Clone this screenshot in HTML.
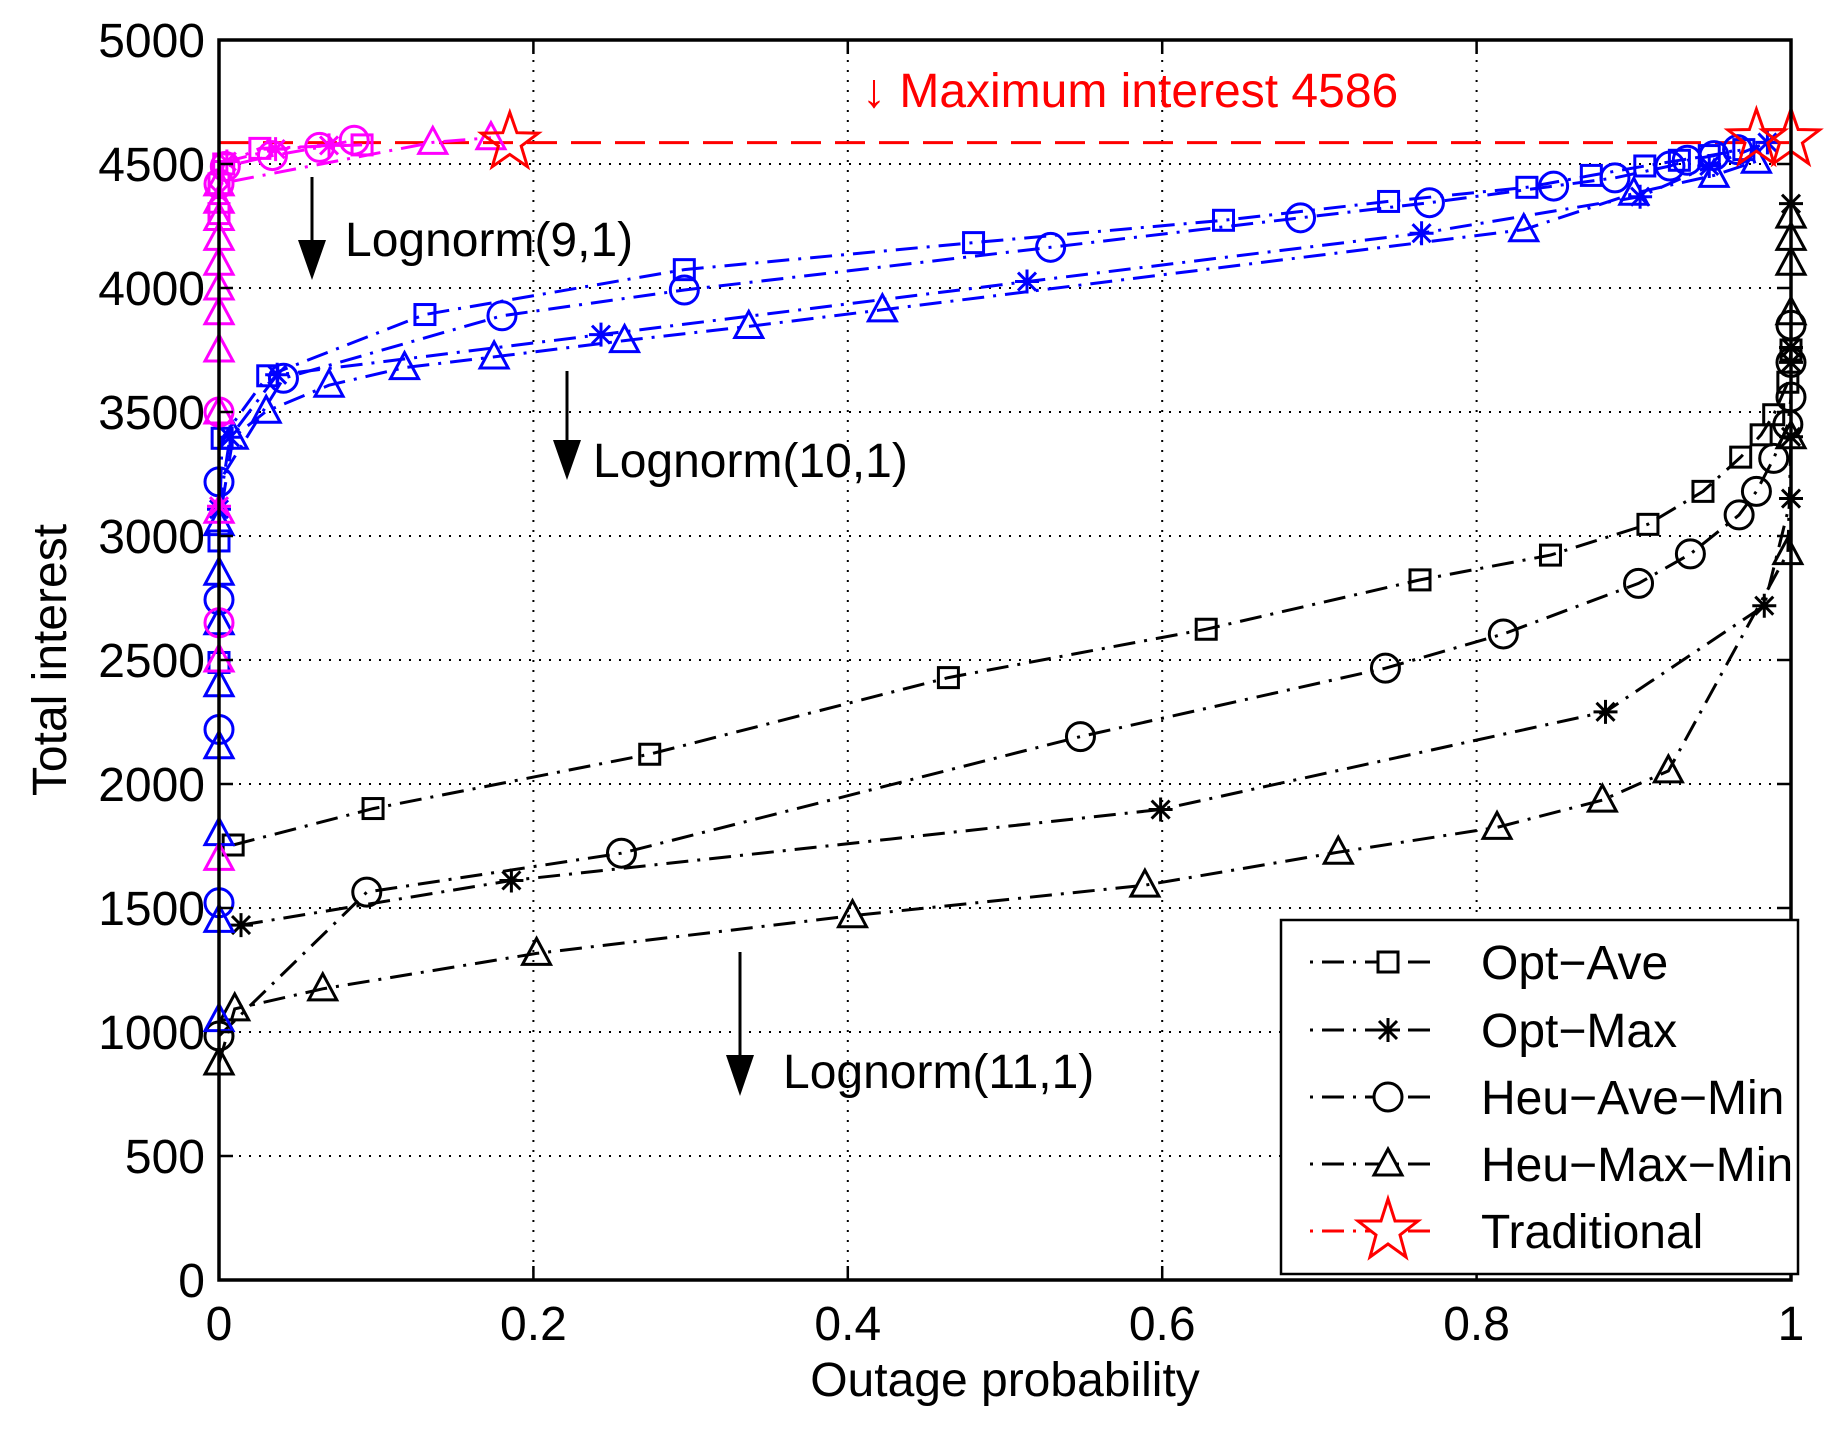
<!DOCTYPE html>
<html><head><meta charset="utf-8"><style>
html,body{margin:0;padding:0;background:#fff;}
svg{display:block;font-family:"Liberation Sans",sans-serif;}
</style></head><body>
<svg id="chart" width="1848" height="1430" viewBox="0 0 1848 1430" xmlns="http://www.w3.org/2000/svg"></svg>
<script>
// ---- data ----
const xTicks = [0, 0.2, 0.4, 0.6, 0.8, 1];
const xTickLabels = ["0", "0.2", "0.4", "0.6", "0.8", "1"];
const yTicks = [0, 500, 1000, 1500, 2000, 2500, 3000, 3500, 4000, 4500, 5000];
const yTickLabels = ["0", "500", "1000", "1500", "2000", "2500", "3000", "3500", "4000", "4500", "5000"];
const maxInterest = 4586;

// Lognorm(11,1) black
const blkOptAveX = [0.009, 0.098, 0.274, 0.464, 0.628, 0.764, 0.847, 0.909, 0.944, 0.968, 0.981, 0.989, 0.998, 1.0];
const blkOptAveY = [1754, 1901, 2120, 2429, 2624, 2823, 2923, 3047, 3180, 3318, 3408, 3489, 3620, 3750];
const blkOptMaxX = [0.014, 0.186, 0.599, 0.882, 0.983, 1.0, 1.0, 1.0, 1.0, 1.0];
const blkOptMaxY = [1431, 1611, 1897, 2291, 2719, 3151, 3400, 3700, 3760, 4340];
const blkHeuAveX = [0.0, 0.094, 0.256, 0.548, 0.742, 0.817, 0.903, 0.936, 0.967, 0.978, 0.989, 0.998, 1.0, 1.0, 1.0];
const blkHeuAveY = [984, 1564, 1721, 2191, 2467, 2605, 2809, 2928, 3085, 3180, 3313, 3450, 3560, 3700, 3850];
const blkHeuMaxX = [0.0, 0.01, 0.066, 0.202, 0.403, 0.589, 0.712, 0.813, 0.88, 0.922, 0.998, 1.0, 1.0, 1.0, 1.0, 1.0];
const blkHeuMaxY = [875, 1093, 1174, 1317, 1469, 1592, 1725, 1825, 1935, 2053, 2933, 3400, 3900, 4100, 4200, 4290];

// Lognorm(10,1) blue
const bluOptAveX = [0.0, 0.0, 0.002, 0.031, 0.131, 0.296, 0.48, 0.639, 0.744, 0.832, 0.873, 0.907, 0.929, 0.948, 0.97];
const bluOptAveY = [2490, 2980, 3394, 3646, 3893, 4074, 4183, 4273, 4349, 4406, 4454, 4492, 4515, 4534, 4558];
const bluOptMaxX = [0.0, 0.007, 0.037, 0.243, 0.514, 0.765, 0.904, 0.948, 0.985];
const bluOptMaxY = [3108, 3398, 3650, 3812, 4026, 4221, 4368, 4492, 4587];
const bluHeuAveX = [0.0, 0.0, 0.0, 0.0, 0.041, 0.18, 0.296, 0.529, 0.688, 0.77, 0.849, 0.888, 0.923, 0.934, 0.951, 0.966];
const bluHeuAveY = [1521, 2220, 2743, 3218, 3636, 3888, 3992, 4164, 4283, 4344, 4411, 4444, 4492, 4515, 4534, 4558];
const bluHeuMaxX = [0.0, 0.0, 0.0, 0.0, 0.0, 0.0, 0.0, 0.0, 0.009, 0.03, 0.07, 0.118, 0.175, 0.258, 0.337, 0.422, 0.83, 0.9, 0.951, 0.978];
const bluHeuMaxY = [1050, 1450, 1800, 2150, 2400, 2650, 2850, 3050, 3398, 3503, 3608, 3679, 3722, 3788, 3845, 3912, 4235, 4382, 4454, 4511];

// Lognorm(9,1) magenta
const magOptAveX = [0.0, 0.0, 0.003, 0.026, 0.091];
const magOptAveY = [4300, 4420, 4500, 4563, 4577];
const magOptMaxX = [0.0, 0.0, 0.005, 0.036, 0.07];
const magOptMaxY = [3120, 4380, 4510, 4560, 4575];
const magHeuAveX = [0.0, 0.0, 0.0, 0.004, 0.034, 0.064, 0.086];
const magHeuAveY = [2650, 3500, 4420, 4490, 4534, 4567, 4596];
const magHeuMaxX = [0.0, 0.0, 0.0, 0.0, 0.0, 0.0, 0.0, 0.0, 0.0, 0.0, 0.0, 0.0, 0.136, 0.173];
const magHeuMaxY = [1700, 2500, 3100, 3500, 3750, 3900, 4000, 4100, 4200, 4280, 4350, 4420, 4587, 4606];

// Traditional
const tradX = [0.185, 0.978, 1.0];
const tradY = [4587, 4600, 4600];

// ---- layout ----
const L = 219, R = 1791, T = 40, B = 1280;
const sx = v => L + v * (R - L);
const sy = v => B - v / 5000 * (B - T);
const NS = "http://www.w3.org/2000/svg";
const svg = document.getElementById("chart");
function mk(tag, attrs, parent) {
  const e = document.createElementNS(NS, tag);
  for (const k in attrs) e.setAttribute(k, attrs[k]);
  (parent || svg).appendChild(e);
  return e;
}

// grid
const grid = mk("g", {});


xTicks.forEach(t => {
  if (t > 0 && t < 1) mk("line", {x1: sx(t), x2: sx(t), y1: T, y2: B, stroke: "#000", "stroke-width": 2, "stroke-dasharray": "2,8"}, grid);
});
yTicks.forEach(t => {
  if (t > 0 && t < 5000) mk("line", {x1: L, x2: R, y1: sy(t), y2: sy(t), stroke: "#000", "stroke-width": 2, "stroke-dasharray": "2,8"}, grid);
});

// max interest line
const maxLine = mk("line", {x1: L, x2: R, y1: sy(maxInterest), y2: sy(maxInterest), stroke: "#f00", "stroke-width": 3, "stroke-dasharray": "30,14"});



// markers
function marker(g, type, x, y, color) {
  const s = {stroke: color, "stroke-width": 3, fill: "none"};
  if (type === "square") mk("rect", Object.assign({x: x - 10, y: y - 10, width: 20, height: 20}, s), g);
  else if (type === "circle") mk("circle", Object.assign({cx: x, cy: y, r: 14}, s), g);
  else if (type === "triangle") mk("path", Object.assign({d: `M${x},${y - 15} L${x + 14},${y + 11} L${x - 14},${y + 11} Z`}, s), g);
  else if (type === "star") {
    mk("path", Object.assign({d: `M${x - 12},${y} H${x + 12} M${x},${y - 12} V${y + 12} M${x - 9},${y - 9} L${x + 9},${y + 9} M${x - 9},${y + 9} L${x + 9},${y - 9}`}, s), g);
  } else if (type === "pentagram") {
    let p = "";
    for (let i = 0; i < 10; i++) {
      const r = i % 2 ? 12 : 30, a = -Math.PI / 2 + i * Math.PI / 5;
      p += (i ? "L" : "M") + (x + r * Math.cos(a)).toFixed(1) + "," + (y + r * Math.sin(a)).toFixed(1);
    }
    mk("path", Object.assign({d: p + "Z"}, s), g);
  }
}
const dashes = {dashdot: "22,9,3,9"};
function series(name, xs, ys, type, color, dash) {
  const g = mk("g", {});
  
  
  const pts = xs.map((v, i) => sx(v).toFixed(1) + "," + sy(ys[i]).toFixed(1)).join(" ");
  mk("polyline", {points: pts, fill: "none", stroke: color, "stroke-width": 3, "stroke-dasharray": dash}, g);
  xs.forEach((v, i) => marker(g, type, sx(v), sy(ys[i]), color));
}
series("lognorm11-opt-ave", blkOptAveX, blkOptAveY, "square", "#000", dashes.dashdot);
series("lognorm11-opt-max", blkOptMaxX, blkOptMaxY, "star", "#000", dashes.dashdot);
series("lognorm11-heu-ave-min", blkHeuAveX, blkHeuAveY, "circle", "#000", dashes.dashdot);
series("lognorm11-heu-max-min", blkHeuMaxX, blkHeuMaxY, "triangle", "#000", dashes.dashdot);
series("lognorm10-opt-ave", bluOptAveX, bluOptAveY, "square", "#00f", dashes.dashdot);
series("lognorm10-opt-max", bluOptMaxX, bluOptMaxY, "star", "#00f", dashes.dashdot);
series("lognorm10-heu-ave-min", bluHeuAveX, bluHeuAveY, "circle", "#00f", dashes.dashdot);
series("lognorm10-heu-max-min", bluHeuMaxX, bluHeuMaxY, "triangle", "#00f", dashes.dashdot);
series("lognorm9-opt-ave", magOptAveX, magOptAveY, "square", "#f0f", dashes.dashdot);
series("lognorm9-opt-max", magOptMaxX, magOptMaxY, "star", "#f0f", dashes.dashdot);
series("lognorm9-heu-ave-min", magHeuAveX, magHeuAveY, "circle", "#f0f", dashes.dashdot);
series("lognorm9-heu-max-min", magHeuMaxX, magHeuMaxY, "triangle", "#f0f", dashes.dashdot);
const tg = mk("g", {});


tradX.forEach((v, i) => marker(tg, "pentagram", sx(v), sy(tradY[i]), "#f00"));

// axes box + ticks
const ax = mk("g", {});


mk("rect", {x: L, y: T, width: R - L, height: B - T, fill: "none", stroke: "#000", "stroke-width": 3.5}, ax);
xTicks.forEach((t, i) => {
  mk("line", {x1: sx(t), x2: sx(t), y1: B, y2: B - 14, stroke: "#000", "stroke-width": 2.5}, ax);
  mk("line", {x1: sx(t), x2: sx(t), y1: T, y2: T + 14, stroke: "#000", "stroke-width": 2.5}, ax);
  const tx = mk("text", {x: sx(t), y: 1340, "font-size": 48, "text-anchor": "middle"}, ax);
  
  
  tx.textContent = xTickLabels[i];
});
yTicks.forEach((t, i) => {
  mk("line", {x1: L, x2: L + 14, y1: sy(t), y2: sy(t), stroke: "#000", "stroke-width": 2.5}, ax);
  mk("line", {x1: R, x2: R - 14, y1: sy(t), y2: sy(t), stroke: "#000", "stroke-width": 2.5}, ax);
  const tx = mk("text", {x: 205, y: sy(t) + 17, "font-size": 48, "text-anchor": "end"}, ax);
  
  
  tx.textContent = yTickLabels[i];
});
</script>
<svg style="position:absolute;left:0;top:0" width="1848" height="1430">
  <text x="1005" y="1396" font-size="48" text-anchor="middle" font-family="Liberation Sans, sans-serif">Outage probability</text>
  <text x="0" y="0" font-size="48" text-anchor="middle" font-family="Liberation Sans, sans-serif" transform="translate(66,660) rotate(-90)">Total interest</text>
  <text x="862" y="107" font-size="48" fill="#f00" font-family="Liberation Sans, sans-serif">↓ Maximum interest 4586</text>
  <g>
    <line x1="312" y1="177" x2="312" y2="270" stroke="#000" stroke-width="3"/>
    <path d="M298,240 L312,280 L326,240 Z" fill="#000"/>
    <text x="345" y="256" font-size="48" font-family="Liberation Sans, sans-serif">Lognorm(9,1)</text>
  </g>
  <g>
    <line x1="567" y1="371" x2="567" y2="470" stroke="#000" stroke-width="3"/>
    <path d="M553,440 L567,480 L581,440 Z" fill="#000"/>
    <text x="593" y="477" font-size="48" font-family="Liberation Sans, sans-serif">Lognorm(10,1)</text>
  </g>
  <g>
    <line x1="740" y1="952" x2="740" y2="1085" stroke="#000" stroke-width="3"/>
    <path d="M726,1055 L740,1096 L754,1055 Z" fill="#000"/>
    <text x="783" y="1088" font-size="48" font-family="Liberation Sans, sans-serif">Lognorm(11,1)</text>
  </g>
  <g font-family="Liberation Sans, sans-serif" font-size="48">
    <rect x="1281" y="920" width="517" height="354" fill="#fff" stroke="#000" stroke-width="2.5"/>
    <g>
      <line x1="1310" x2="1431" y1="962" y2="962" stroke="#000" stroke-width="3" stroke-dasharray="3,9,22,9"/>
      <rect x="1378" y="952" width="20" height="20" fill="#fff" stroke="#000" stroke-width="3"/>
      <text x="1481" y="979">Opt−Ave</text>
    </g>
    <g>
      <line x1="1310" x2="1431" y1="1030" y2="1030" stroke="#000" stroke-width="3" stroke-dasharray="3,9,22,9"/>
      <path d="M1376,1030 H1400 M1388,1018 V1042 M1379,1021 L1397,1039 M1379,1039 L1397,1021" stroke="#000" stroke-width="3"/>
      <text x="1481" y="1047">Opt−Max</text>
    </g>
    <g>
      <line x1="1310" x2="1431" y1="1097" y2="1097" stroke="#000" stroke-width="3" stroke-dasharray="3,9,22,9"/>
      <circle cx="1388" cy="1097" r="14" fill="#fff" stroke="#000" stroke-width="3"/>
      <text x="1481" y="1114">Heu−Ave−Min</text>
    </g>
    <g>
      <line x1="1310" x2="1431" y1="1164" y2="1164" stroke="#000" stroke-width="3" stroke-dasharray="3,9,22,9"/>
      <path d="M1388,1149 L1402,1175 L1374,1175 Z" fill="#fff" stroke="#000" stroke-width="3"/>
      <text x="1481" y="1181">Heu−Max−Min</text>
    </g>
    <g>
      <line x1="1310" x2="1431" y1="1231" y2="1231" stroke="#f00" stroke-width="3" stroke-dasharray="3,9,22,9"/>
      <path d="M1388,1199 L1395,1221 L1418,1221 L1400,1235 L1406,1257 L1388,1244 L1370,1257 L1376,1235 L1358,1221 L1381,1221 Z" fill="#fff" stroke="#f00" stroke-width="3"/>
      <text x="1481" y="1248">Traditional</text>
    </g>
  </g>
</svg>
</body></html>
